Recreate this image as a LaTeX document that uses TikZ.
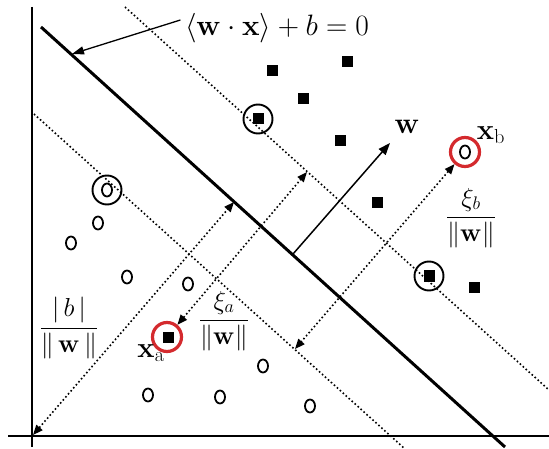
\RequirePackage{fix-cm}
\documentclass[tikz,border=0pt]{standalone}
\usetikzlibrary{arrows.meta, shapes.geometric}
\definecolor{cred}{HTML}{D42A2E}
\tikzset{
  every picture/.style={line width=1.2pt},
  sq/.style={fill=black, inner sep=0pt, minimum size=11pt},
  oc/.style={draw, ellipse, inner sep=0pt, minimum width=10pt, minimum height=13pt, line width=1.8pt},
  ring/.style={draw=#1, circle, inner sep=0pt, minimum size=29pt, line width=1.9pt},
  ring/.default=black,
  axis/.style={line width=2pt},
  margin/.style={line width=1.6pt, dash pattern=on 1.6pt off 2.4pt},
  gap/.style={margin, {Triangle[length=10pt,width=8pt]}-{Triangle[length=10pt,width=8pt]}},
  pointer/.style={-{Triangle[length=12pt,width=8pt]}, line width=1.3pt},
  lbl/.style={font=\fontsize{#1}{#1}\selectfont, inner sep=0pt},
  lbl/.default=26,
}

\begin{document}
\begin{tikzpicture}[x=1pt, y=-1pt]
  \useasboundingbox (0,0) rectangle (549,449);
  % axes
  \coordinate (O) at (33,435);
  \draw[axis] (32,7) -- (32,447);
  \draw[axis] (8,436) -- (549,436);
  % separating line and both margins
  \coordinate (h1) at (41,27);
  \coordinate (h2) at (505,447);
  \draw[line width=3pt] (h1) -- (h2);
  \draw[margin] (125,7) -- (549,390);
  \draw[margin] (34,114) -- (405,449);
  % class points
  \foreach \n/\x/\y in {s1/272/71, s2/347/62, s3/303/99, s4/340/141, s5/377/203,
                        s6/474/287, sv1/258/119, sv2/429/276, xa/168/337}
    \node[sq] (\n) at (\x,\y) {};
  \foreach \n/\x/\y in {c1/98/223, c2/71/243, c3/127/277, c4/188/284, c5/263/366,
                        c6/148/395, c7/220/397, c8/310/406, cv1/107/190, xb/465/152}
    \node[oc] (\n) at (\x,\y) {};
  \foreach \n in {sv1, sv2, cv1}
    \node[ring] (r\n) at (\n) {};
  \node[ring=cred, line width=3.2pt] (rxa) at (167,337) {};
  \node[ring=cred, line width=3.2pt] (rxb) at (xb) {};
  % labels
  \node[lbl=29.5] (title) at (277,28)
    {$\langle\mathbf{w}\cdot\mathbf{x}\rangle + b = 0$};
  \node[lbl=30] (wl) at (407,127) {$\mathbf{w}$};
  \node[lbl=29] (xal) at (151,353) {$\mathbf{x}_{\mathrm{a}}$};
  \node[lbl=29] (xbl) at (491,135) {$\mathbf{x}_{\mathrm{b}}$};
  \node[lbl] (fb) at (69,328) {$\displaystyle\frac{|\,b\,|}{\|\,\mathbf{w}\,\|}$};
  \node[lbl] (fxa) at (224,321) {$\displaystyle\frac{\xi_a}{\|\mathbf{w}\|}$};
  \node[lbl] (fxb) at (471,218) {$\displaystyle\frac{\xi_b}{\|\mathbf{w}\|}$};
  % distances
  \coordinate (hb) at (234,202);
  \coordinate (pa) at (307,172);
  \coordinate (pb) at (295,349);
  \draw[gap] (O) -- (hb);
  \draw[gap] (rxa) -- (pa);
  \draw[gap] (rxb) -- (pb);
  % normal vector
  \coordinate (wb) at (293,254);
  \coordinate (wt) at (390,143);
  \draw[-{Triangle[length=12pt,width=9pt]}, line width=1.5pt] (wb) -- (wt);
  \coordinate (ht) at (72,54);
  \draw[pointer] ([xshift=-4pt,yshift=8pt]title.west) -- (ht);
\end{tikzpicture}
\end{document}
